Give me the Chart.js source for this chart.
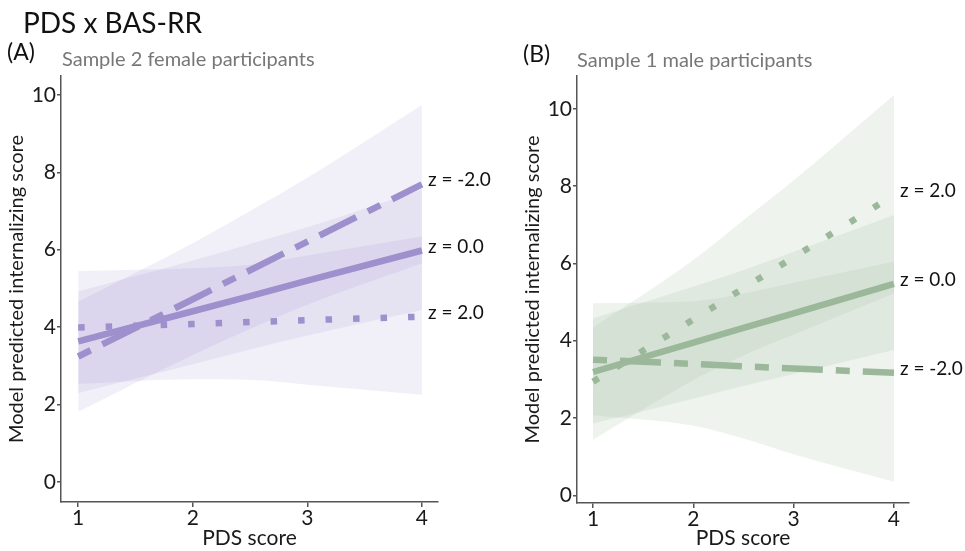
<!DOCTYPE html>
<html>
<head>
<meta charset="utf-8">
<script src="https://cdn.jsdelivr.net/npm/chart.js@4"></script>
<style>
body { margin: 0; background: #fff; font-family: Lato, sans-serif; }
#wrap { position: relative; width: 965px; height: 551px; overflow: hidden; }
canvas { position: absolute; top: 0; }
.t { position: absolute; white-space: nowrap; line-height: 1; }
</style>
</head>
<body>
<div id="wrap">
<canvas id="chartA" width="505" height="551" style="left:0px"></canvas>
<canvas id="chartB" width="460" height="551" style="left:505px"></canvas>
<div class="t" style="left:23px;top:8px;font-size:28px;color:#111">PDS x BAS-RR</div>
<div class="t" style="left:7px;top:40px;font-size:23px;color:#111">(A)</div>
<div class="t" style="left:62px;top:48px;font-size:20px;color:#777">Sample 2 female participants</div>
<div class="t" style="left:523px;top:42px;font-size:23px;color:#111">(B)</div>
<div class="t" style="left:577px;top:49px;font-size:20px;color:#777">Sample 1 male participants</div>
</div>
<script>
// PDS score positions where values were read
const xVals = [1, 2, 2.5, 3, 4];
const xTicks = [1, 2, 3, 4];
const yTicks = [0, 2, 4, 6, 8, 10];

// Panel A - sample 2 female
const aMidNeg2 = [3.24, 4.72, 5.47, 6.21, 7.69];
const aUpNeg2  = [4.66, 6.17, 7.00, 7.86, 9.74];
const aLoNeg2  = [1.81, 3.28, 3.95, 4.58, 5.65];
const aMid0    = [3.63, 4.41, 4.80, 5.20, 5.98];
const aUp0     = [4.92, 5.72, 6.15, 6.58, 7.55];
const aLo0     = [2.30, 3.04, 3.42, 3.78, 4.44];
const aMid2    = [3.99, 4.08, 4.13, 4.18, 4.27];
const aUp2     = [5.45, 5.52, 5.61, 5.85, 6.34];
const aLo2     = [2.53, 2.65, 2.64, 2.51, 2.25];

// Panel B - sample 1 male
const bMid2    = [2.94, 4.55, 5.36, 6.16, 7.77];
const bUp2     = [4.34, 6.09, 7.12, 8.15, 10.36];
const bLo2     = [1.44, 2.98, 3.62, 4.16, 5.22];
const bMid0    = [3.19, 3.95, 4.33, 4.71, 5.47];
const bUp0     = [4.58, 5.40, 5.83, 6.30, 7.25];
const bLo0     = [1.86, 2.50, 2.83, 3.14, 3.76];
const bMidNeg2 = [3.51, 3.40, 3.34, 3.28, 3.17];
const bUpNeg2  = [4.97, 5.02, 5.22, 5.50, 6.04];
const bLoNeg2  = [2.07, 1.80, 1.47, 1.06, 0.35];

const twodash = [14, 13, 41, 13];
const dotted = [6.5, 21];
const axisCol = '#555';
const textCol = '#1a1a1a';

const pts = ys => xVals.map((x, i) => ({x: x, y: ys[i]}));

const zLabels = {
    id: 'zLabels',
    afterDatasetsDraw(chart) {
        const ctx = chart.ctx;
        const xs = chart.scales.x, ys = chart.scales.y;
        ctx.save();
        ctx.font = '19px Lato';
        ctx.fillStyle = '#111';
        ctx.textBaseline = 'middle';
        chart.data.datasets.forEach(ds => {
            if (!ds.zLabel) return;
            const last = ds.data[ds.data.length - 1];
            ctx.fillText(ds.zLabel, xs.getPixelForValue(last.x) + 6, ys.getPixelForValue(last.y) - 4);
        });
        ctx.restore();
    }
};

function lineSet(label, values, dash, color) {
    return {
        zLabel: label,
        data: pts(values),
        borderColor: color,
        borderWidth: 6.5,
        borderDash: dash,
        borderCapStyle: 'butt',
        pointRadius: 0,
        tension: 0,
        fill: false
    };
}

function ribbon(up, lo, fillColor) {
    const edge = {
        borderColor: 'rgba(0,0,0,0)',
        borderWidth: 0,
        pointRadius: 0,
        cubicInterpolationMode: 'monotone'
    };
    return [
        Object.assign({data: pts(up), fill: false}, edge),
        Object.assign({data: pts(lo), fill: '-1', backgroundColor: fillColor}, edge)
    ];
}

function configure_chart(id, lines, ribbons, opt) {
    new Chart(document.getElementById(id), {
        type: 'line',
        data: {datasets: lines.concat(...ribbons)},
        plugins: [zLabels],
        options: {
            responsive: false,
            animation: false,
            layout: {padding: opt.padding},
            plugins: {
                legend: {display: false},
                tooltip: {enabled: false},
                filler: {drawTime: 'beforeDatasetsDraw'}
            },
            scales: {
                x: {
                    type: 'linear',
                    min: opt.xMin, max: opt.xMax,
                    afterBuildTicks: s => { s.ticks = xTicks.map(v => ({value: v})); },
                    afterFit: s => { s.height = opt.xHeight; },
                    grid: {drawOnChartArea: false, tickLength: 5, color: axisCol, lineWidth: 1.5},
                    border: {color: axisCol, width: 1.5},
                    ticks: {font: {family: 'Lato', size: 21, lineHeight: 1}, color: textCol, padding: 1, maxRotation: 0},
                    title: {display: true, text: 'PDS score', font: {family: 'Lato', size: 21}, color: textCol, padding: 0}
                },
                y: {
                    min: opt.yMin, max: opt.yMax,
                    afterBuildTicks: s => { s.ticks = yTicks.map(v => ({value: v})); },
                    afterFit: s => { s.width = 61; },
                    grid: {drawOnChartArea: false, tickLength: 4, color: axisCol, lineWidth: 1.5},
                    border: {color: axisCol, width: 1.5},
                    ticks: {font: {family: 'Lato', size: 21}, color: textCol, padding: 1},
                    title: {display: true, text: 'Model predicted internalizing score', font: {family: 'Lato', size: 20}, color: textCol, padding: {top: 5, bottom: 0}}
                }
            }
        }
    });
}

const purple = '#9d90cc', purpleFill = 'rgba(157,144,204,0.14)';
const green = '#9cb89b', greenFill = 'rgba(150,180,148,0.16)';

configure_chart('chartA',
    [lineSet('z = -2.0', aMidNeg2, twodash, purple),
     lineSet('z = 0.0', aMid0, [], purple),
     lineSet('z = 2.0', aMid2, dotted, purple)],
    [ribbon(aUpNeg2, aLoNeg2, purpleFill), ribbon(aUp0, aLo0, purpleFill), ribbon(aUp2, aLo2, purpleFill)],
    {padding: {left: 0, right: 67, top: 76, bottom: 0}, xHeight: 49, xMin: 0.85, xMax: 4.14, yMin: -0.52, yMax: 10.49});

configure_chart('chartB',
    [lineSet('z = 2.0', bMid2, dotted, green),
     lineSet('z = 0.0', bMid0, [], green),
     lineSet('z = -2.0', bMidNeg2, twodash, green)],
    [ribbon(bUp2, bLo2, greenFill), ribbon(bUp0, bLo0, greenFill), ribbon(bUpNeg2, bLoNeg2, greenFill)],
    {padding: {left: 11, right: 56, top: 76, bottom: 0}, xHeight: 48, xMin: 0.84, xMax: 4.15, yMin: -0.2, yMax: 10.85});
</script>
</body>
</html>
